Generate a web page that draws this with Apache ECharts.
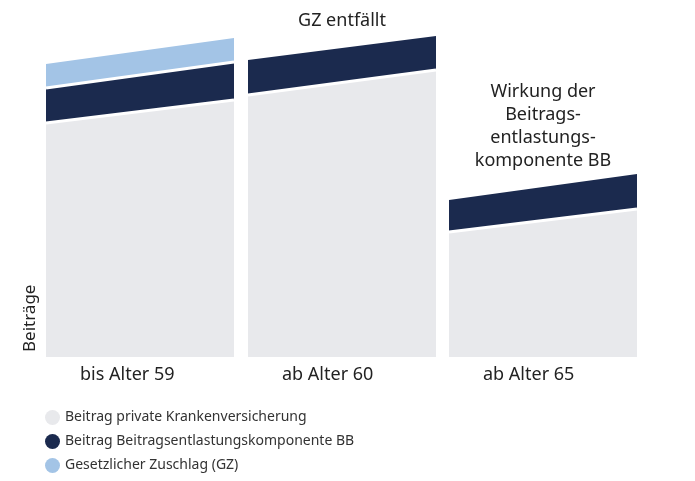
<!DOCTYPE html>
<html lang="de">
<head>
<meta charset="UTF-8">
<script src="https://cdn.jsdelivr.net/npm/echarts@6/dist/echarts.min.js"></script>
</head>
<body style="margin:0">
<div id="main" style="width:695px;height:481px"></div>
<script>
// x-Spannen der drei Gruppen und Höhen links/rechts
var groups = ['bis Alter 59', 'ab Alter 60', 'ab Alter 65'];
var groupX = [[0, 188], [202, 390], [403, 591]];
var pkv = [[234, 257], [262, 287], [125, 148]];
var bb = [[35, 38], [35, 34], [32, 35]];
var gz = [[24, 24], null, null];
var names = ['Beitrag private Krankenversicherung', 'Beitrag Beitragsentlastungskomponente BB', 'Gesetzlicher Zuschlag (GZ)'];
var colors = ['#e8e9ec', '#1b2a4e', '#a3c4e6'];

var myChart = echarts.init(document.getElementById('main'));
var series = [];
var layers = [pkv, bb, gz];
for (var g = 0; g < groups.length; g++) {
    var cum = [0, 0];
    for (var l = 0; l < layers.length; l++) {
        var v = layers[l][g];
        if (!v) continue;
        cum = [cum[0] + v[0], cum[1] + v[1]];
        var hasNext = l < layers.length - 1 && layers[l + 1][g];
        series.push({
            name: names[l], type: 'line', showSymbol: false,
            data: [[groupX[g][0], cum[0]], [groupX[g][1], cum[1]]],
            lineStyle: {color: '#fff', width: hasNext ? 3 : 0},
            itemStyle: {color: colors[l]},
            areaStyle: {color: colors[l], opacity: 1, origin: 'start'},
            z: 2 + (layers.length - l)
        });
    }
}
var texts = [];
for (var g = 0; g < groups.length; g++) {
    texts.push({type: 'text', z: 100, left: 46 + (groupX[g][0] + groupX[g][1]) / 2 - 60, top: 366,
        style: {text: groups[g], width: 120, align: 'center', font: '18px "Noto Sans"', fill: '#222'}});
}
texts.push({type: 'text', z: 100, x: 342, y: 12, style: {text: 'GZ entfällt', textAlign: 'center', font: '18px "Noto Sans"', fill: '#222'}});
texts.push({type: 'text', z: 100, x: 543, y: 80, style: {text: 'Wirkung der\nBeitrags-\nentlastungs-\nkomponente BB', textAlign: 'center', lineHeight: 23, font: '18px "Noto Sans"', fill: '#222'}});
texts.push({type: 'text', z: 100, x: 22, y: 352, rotation: Math.PI / 2, style: {text: 'Beiträge', font: '17px "Noto Sans"', fill: '#222'}});

var option = {
    animation: false,
    grid: {left: 46, right: 58, top: 27, bottom: 124},
    xAxis: {type: 'value', min: 0, max: 591, show: false},
    yAxis: {type: 'value', min: 0, max: 330, show: false},
    legend: {
        data: names, orient: 'vertical', left: 40, top: 405, itemGap: 9,
        icon: 'circle', itemWidth: 15, itemHeight: 15,
        textStyle: {fontFamily: 'Noto Sans', fontSize: 14, color: '#333'}
    },
    graphic: texts,
    series: series
};
myChart.setOption(option);
</script>
</body>
</html>
